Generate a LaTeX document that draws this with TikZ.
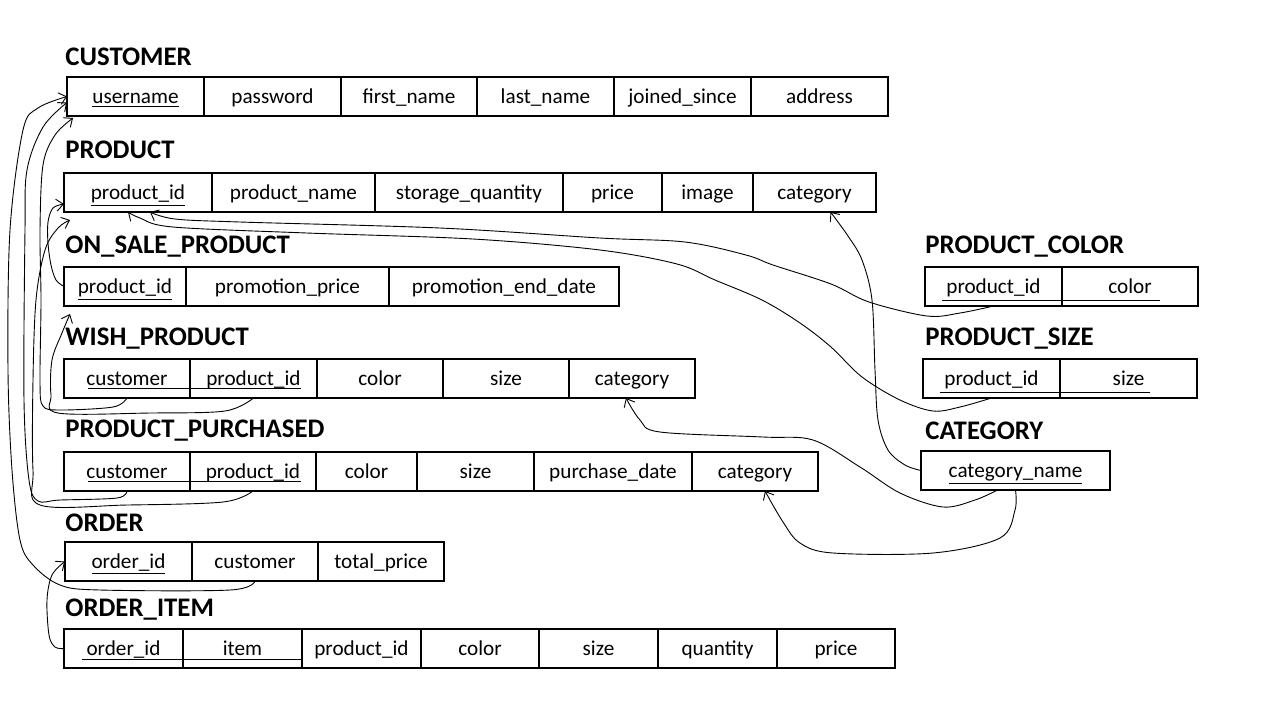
\documentclass[tikz,border=0pt]{standalone}
\usepackage{fontspec}
\setmainfont{Carlito}
\usetikzlibrary{arrows.meta, positioning}

\begin{document}
\begin{tikzpicture}[
  x=0.5pt, y=-0.5pt,
  tname/.style={anchor=west, inner sep=0pt, font=\fontsize{13.4}{15}\selectfont\bfseries},
  cell/.style={draw, line width=0.7pt, outer sep=0pt, inner sep=1pt, minimum height=19.5pt, text height=8.5pt, text depth=2pt, font=\fontsize{10.6}{12}\selectfont},
  cellw/.style={cell, minimum width={#1*0.5pt}},
  keyline/.style={line width=0.5pt},
  fk/.style={line width=0.45pt, -{Straight Barb[length=3.5pt, width=6pt]}}
]
  \useasboundingbox (0,0) rectangle (1280,720);

  % CUSTOMER
  \node[tname] (tcustomer) at (65,57) {CUSTOMER};
  \node[cellw=137, anchor=north west] (c1) at (67,77) {\underline{username}};
  \node[cellw=137, right=0pt of c1] (c2) {password};
  \node[cellw=136, right=0pt of c2] (c3) {first\_name};
  \node[cellw=137, right=0pt of c3] (c4) {last\_name};
  \node[cellw=137, right=0pt of c4] (c5) {joined\_since};
  \node[cellw=137, right=0pt of c5] (c6) {address};

  % PRODUCT
  \node[tname] (tproduct) at (65,150) {PRODUCT};
  \node[cellw=148, anchor=north west] (p1) at (64,173) {\underline{product\_id}};
  \node[cellw=163, right=0pt of p1] (p2) {product\_name};
  \node[cellw=188, right=0pt of p2] (p3) {storage\_quantity};
  \node[cellw=99, right=0pt of p3] (p4) {price};
  \node[cellw=91, right=0pt of p4] (p5) {image};
  \node[cellw=123, right=0pt of p5] (p6) {category};

  % ON_SALE_PRODUCT
  \node[tname] (tonsale) at (65,247) {ON\_SALE\_PRODUCT};
  \node[cellw=122, anchor=north west] (os1) at (64,267) {\underline{product\_id}};
  \node[cellw=203, right=0pt of os1] (os2) {promotion\_price};
  \node[cellw=230, right=0pt of os2] (os3) {promotion\_end\_date};

  % WISH_PRODUCT
  \node[tname] (twish) at (65,339) {WISH\_PRODUCT};
  \node[cellw=126, anchor=north west] (w1) at (64,359) {customer};
  \node[cellw=127, right=0pt of w1] (w2) {product\_id};
  \node[cellw=126, right=0pt of w2] (w3) {color};
  \node[cellw=126, right=0pt of w3] (w4) {size};
  \node[cellw=126, right=0pt of w4] (w5) {category};

  % PRODUCT_PURCHASED
  \node[tname] (tpurchased) at (65,431) {PRODUCT\_PURCHASED};
  \node[cellw=126, anchor=north west] (pp1) at (64,452) {customer};
  \node[cellw=126, right=0pt of pp1] (pp2) {product\_id};
  \node[cellw=101, right=0pt of pp2] (pp3) {color};
  \node[cellw=117, right=0pt of pp3] (pp4) {size};
  \node[cellw=158, right=0pt of pp4] (pp5) {purchase\_date};
  \node[cellw=126, right=0pt of pp5] (pp6) {category};

  % ORDER
  \node[tname] (torder) at (65,523) {ORDER};
  \node[cellw=127, anchor=north west] (o1) at (65,542) {\underline{order\_id}};
  \node[cellw=126, right=0pt of o1] (o2) {customer};
  \node[cellw=126, right=0pt of o2] (o3) {total\_price};

  % ORDER_ITEM
  \node[tname] (torderitem) at (65,610) {ORDER\_ITEM};
  \node[cellw=119, anchor=north west] (oi1) at (64,629) {order\_id};
  \node[cellw=119, right=0pt of oi1] (oi2) {item};
  \node[cellw=119, right=0pt of oi2] (oi3) {product\_id};
  \node[cellw=118, right=0pt of oi3] (oi4) {color};
  \node[cellw=119, right=0pt of oi4] (oi5) {size};
  \node[cellw=119, right=0pt of oi5] (oi6) {quantity};
  \node[cellw=118, right=0pt of oi6] (oi7) {price};

  % right column
  \node[tname] (tcolor) at (925,247) {PRODUCT\_COLOR};
  \node[cellw=137, anchor=north west] (pc1) at (925,267) {product\_id};
  \node[cellw=136, right=0pt of pc1] (pc2) {color};

  \node[tname] (tsize) at (925,339) {PRODUCT\_SIZE};
  \node[cellw=137, anchor=north west] (ps1) at (923,359) {product\_id};
  \node[cellw=137, right=0pt of ps1] (ps2) {size};

  \node[tname] (tcategory) at (925,431) {CATEGORY};
  \node[cellw=189, anchor=north west] (cat) at (921,451) {\underline{category\_name}};

  % composite keys
  \draw[keyline] ([shift={(12pt,5pt)}]w1.south west) -- ([shift={(-8pt,5pt)}]w2.south east);
  \draw[keyline] ([shift={(12pt,5pt)}]pp1.south west) -- ([shift={(-7.5pt,5pt)}]pp2.south east);
  \draw[keyline] ([shift={(9pt,4.5pt)}]oi1.south west) -- ([shift={(0pt,4.5pt)}]oi2.south east);
  \draw[keyline] ([shift={(8.5pt,3pt)}]pc1.south west) -- ([shift={(-19pt,3pt)}]pc2.south east);
  \draw[keyline] ([shift={(8.5pt,3pt)}]ps1.south west) -- ([shift={(-23.5pt,3pt)}]ps2.south east);

  % references, right side
  \draw[fk] plot[smooth, tension=0.55] coordinates {(pc1.south) (960,313) (927,316) (869,302) (831,284) (773,265) (746,255) (685,242) (600,238) (440,228) (240,222) (175,219) ([xshift=6pt]p1.south)};
  \draw[fk] plot[smooth, tension=0.55] coordinates {(ps1.south) (960,407) (933,411) (900,400) (862,377) (831,347) (800,323) (762,300) (715,280) (677,264) (600,250) (473,239) (307,233) (173,227) (140,218) ([xshift=-5pt]p1.south)};
  \draw[fk] plot[smooth, tension=0.55] coordinates {(cat.west) (905,465) (888,450) (878,420) (875,370) (872,300) (862,260) (848,236) ([xshift=8pt]p6.south)};
  \draw[fk] plot[smooth, tension=0.55] coordinates {([xshift=-9pt]cat.south) (975,500) (943,507) (900,493) (860,467) (813,440) (763,437) (660,432) (640,420) ([xshift=-3pt]w5.south)};
  \draw[fk] plot[smooth, tension=0.55] coordinates {(cat.south) (1015,510) (1000,538) (933,553) (833,553) (800,543) (783,522) ([xshift=5pt]pp6.south)};

  % references, left side
  \draw[fk] plot[smooth, tension=0.55] coordinates {(os1.west) (56,280) (51,265) (48,243) (48,222) (53,208) ([yshift=4pt]p1.south west)};
  \draw[fk] plot[smooth, tension=0.55] coordinates {(pp2.south) (223,502) (127,505) (40,505) (33,470) (33,380) (36,300) (45,250) (58,228) ([shift={(3pt,-4pt)}]p1.south west)};
  \draw[fk] plot[smooth, tension=0.55] coordinates {(w2.south) (225,411) (150,413) (58,413) (51,395) (52,360) (62,333) ([shift={(3pt,-4pt)}]os1.south west)};
  \draw[fk] plot[smooth, tension=0.55] coordinates {(w1.south) (113,407) (60,410) (43,406) (40,383) (41,300) (40,230) (43,165) (55,135) ([shift={(3pt,-1pt)}]c1.south west)};
  \draw[fk] plot[smooth, tension=0.55] coordinates {(pp1.south) (117,498) (60,500) (38,501) (29,480) (24,400) (25,230) (27,170) (43,127) ([yshift=-3pt]c1.west)};
  \draw[fk] plot[smooth, tension=0.55] coordinates {(o2.south) (230,590) (100,590) (60,585) (33,565) (20,540) (12,470) (8,370) (10,230) (23,130) (38,108) (c1.west)};
  \draw[fk] plot[smooth, tension=0.55] coordinates {(oi1.west) (55,647) (49,635) (47,600) (52,575) (o1.west)};

\end{tikzpicture}
\end{document}
